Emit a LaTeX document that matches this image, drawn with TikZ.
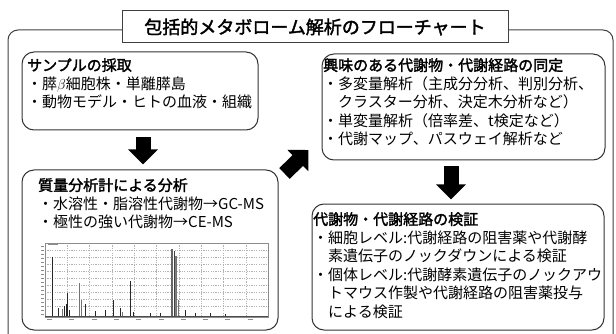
\documentclass[tikz,border=0pt]{standalone}
\usepackage{fontspec}
\setmainfont[AutoFakeBold=2]{Noto Sans CJK JP}
\usetikzlibrary{arrows.meta}
\tikzset{
  frame/.style={draw=black!75, line width=1pt, rounded corners=10pt},
  titlebox/.style={draw=black!75, line width=1pt, fill=white, rectangle, inner sep=0pt,
    font=\fontsize{18}{20}\selectfont\bfseries},
  box/.style={draw=black!80, line width=1pt, rectangle, rounded corners=12pt, fill=white, inner sep=0pt},
  txt/.style={anchor=north west, inner sep=0pt, align=left, font=\fontsize{15}{18.5}\selectfont},
  bigarrow/.style={line width=15pt, draw=black, -{Triangle[width=29pt,length=15pt]}},
  gridl/.style={draw=black!30, line width=0.3pt, dash pattern=on 1.2pt off 1.2pt},
  peak/.style={draw=black!85, line width=0.7pt},
  gpeak/.style={draw=black!55, line width=0.9pt}
}
\begin{document}
\begin{tikzpicture}[x=1pt,y=-1pt]
\useasboundingbox (0,0) rectangle (616,334);
\clip (0,0) rectangle (616,334);
% outer frame
\draw[frame] (8,30) rectangle (613,346);
% title
\node[titlebox, minimum width=386pt, minimum height=32pt] (title) at (315,27) {包括的メタボローム解析のフローチャート};
% boxes
\node[box, minimum width=236pt, minimum height=78pt] (b1) at (140,91) {};
\node[box, minimum width=256pt, minimum height=160pt] (b2) at (150,250) {};
\node[box, minimum width=283pt, minimum height=106pt] (b3) at (463.5,107) {};
\node[box, minimum width=292pt, minimum height=126pt] (b4) at (458,267) {};
% texts
\node[txt] (t1) at (27,58) {\textbf{サンプルの採取}\\・膵$\beta$細胞株・単離膵島\\・動物モデル・ヒトの血液・組織};
\node[txt] (t2) at (38,178) {\textbf{質量分析計による分析}\\・水溶性・脂溶性代謝物→GC-MS\\・極性の強い代謝物→CE-MS};
\node[txt] (t3) at (323,58) {\textbf{興味のある代謝物・代謝経路の同定}\\・多変量解析（主成分分析、判別分析、\\\hspace*{1em}クラスター分析、決定木分析など）\\・単変量解析（倍率差、t検定など）\\・代謝マップ、パスウェイ解析など};
\node[txt] (t4) at (313,212) {\textbf{代謝物・代謝経路の検証}\\・細胞レベル:代謝経路の阻害薬や代謝酵\\\hspace*{1em}素遺伝子のノックダウンによる検証\\・個体レベル:代謝酵素遺伝子のノックアウ\\\hspace*{1em}トマウス作製や代謝経路の阻害薬投与\\\hspace*{1em}による検証};
% arrows
\coordinate (a1s) at ([xshift=3pt,yshift=-7pt]b1.south);
\coordinate (a1e) at ([xshift=-7pt,yshift=5pt]b2.north);
\draw[bigarrow] (a1s) -- (a1e);
\coordinate (a2s) at ([xshift=6pt,yshift=-4pt]b2.north east);
\coordinate (a2e) at ([xshift=-13pt,yshift=-43pt]b3.west);
\draw[bigarrow] (a2s) -- (a2e);
\coordinate (a3s) at ([xshift=-12.5pt,yshift=-6pt]b3.south);
\coordinate (a3e) at ([xshift=-7pt,yshift=4pt]b4.north);
\draw[bigarrow] (a3s) -- (a3e);
% chromatogram
\foreach \k in {1,...,9} \draw[gridl] (45+\k*22.3,243) -- (45+\k*22.3,316);
\foreach \yy in {250,257,...,312} \draw[gridl] (45,\yy) -- (268,\yy);
\draw[draw=black!45, line width=0.4pt] (45,243) rectangle (268,317);
\foreach \yy in {246,250,...,314} \draw[draw=black!45, line width=0.4pt] (41,\yy) -- (44,\yy);
\foreach \k in {0,...,9} \draw[draw=black!45, line width=0.6pt] (47+\k*22.3,319.5) -- (52+\k*22.3,319.5);
\draw[draw=black!45, line width=0.6pt] (48,244) -- (58,244);
\draw[draw=black!70, line width=0.5pt] (45,316) -- (268,316);
\foreach \px/\pt in {52/257, 58/308, 64/306, 66/304, 67/293, 69/310, 85/304, 95/311, 105/310, 113/300, 120/308, 130/281, 133/312, 150/313, 160/313, 185/310, 195/313, 210/313, 225/314}
  \draw[peak] (\px,316) -- (\px,\pt);
\foreach \px/\pt in {79/283, 81/300, 62/309, 122/312, 178/300, 176/256}
  \draw[gpeak] (\px,316) -- (\px,\pt);
\draw[draw=black!60, line width=1.2pt] (172,316) -- (172,249);
\draw[draw=black!75, line width=1pt] (174,316) -- (174,251);
\draw[draw=black!50, line width=1.5pt] (175.5,316) -- (175.5,256);
\end{tikzpicture}
\end{document}
